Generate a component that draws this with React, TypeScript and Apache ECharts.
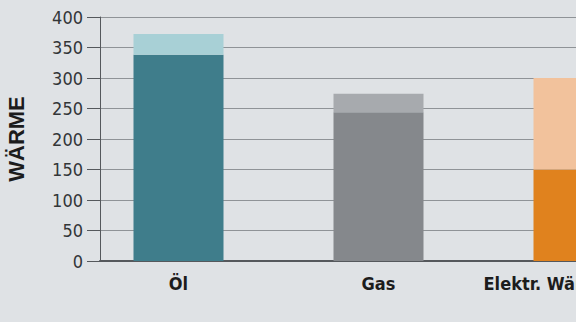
import React, { useEffect, useRef } from "react";
import * as echarts from "echarts";

// Heating energy per fuel type: a solid base part plus a lighter top part.
const categories = ["Öl", "Gas", "Elektr. Wärmepumpe"];
const baseValues = [338, 244, 150];
const topValues = [34, 30, 150];
const baseColors = ["#3f7d8b", "#85888c", "#e0821e"];
const topColors = ["#a8d0d6", "#a7aaae", "#f2c29c"];
const yTicks = { min: 0, max: 400, interval: 50 };
const yAxisTitle = "WÄRME";

const NARROW = "'DejaVu Sans Condensed', 'Liberation Sans', sans-serif";

export default function App() {
  const ref = useRef<HTMLDivElement>(null);

  useEffect(() => {
    if (!ref.current) return;
    const chart = echarts.init(ref.current, undefined, { renderer: "svg" });

    const plotTop = 17;
    const plotHeight = 244;

    chart.setOption({
      animation: false,
      backgroundColor: "#dfe2e5",
      grid: [
        // frame: value axis, grid lines and baseline
        { left: 100, top: plotTop, height: plotHeight, width: 700, outerBoundsMode: "none" },
        // bars: three bands of equal width
        { left: 78.5, top: plotTop, height: plotHeight, width: 600, outerBoundsMode: "none" },
      ],
      xAxis: [
        {
          gridIndex: 0,
          type: "category",
          data: categories,
          axisLine: { show: true, lineStyle: { color: "#55585c", width: 2 } },
          axisTick: { show: false },
          axisLabel: { show: false },
          splitLine: { show: false },
        },
        {
          gridIndex: 1,
          type: "category",
          data: categories,
          axisLine: { show: false },
          axisTick: { show: false },
          axisLabel: {
            interval: 0,
            margin: 13,
            color: "#1c1c1c",
            fontFamily: NARROW,
            fontWeight: "bold",
            fontSize: 18,
          },
        },
      ],
      yAxis: [
        {
          gridIndex: 0,
          type: "value",
          min: yTicks.min,
          max: yTicks.max,
          interval: yTicks.interval,
          name: yAxisTitle,
          nameLocation: "middle",
          nameRotate: 90,
          nameGap: 73,
          nameTextStyle: {
            color: "#1c1c1c",
            fontFamily: "'Liberation Sans', sans-serif",
            fontWeight: "bold",
            fontSize: 22,
          },
          axisLine: { show: true, lineStyle: { color: "#55585c", width: 1 } },
          axisTick: { show: true, length: 13, lineStyle: { color: "#55585c", width: 1 } },
          axisLabel: {
            margin: 17,
            color: "#333638",
            fontFamily: NARROW,
            fontSize: 18,
          },
          splitLine: { show: true, lineStyle: { color: "#8f9397", width: 1 } },
        },
        {
          gridIndex: 1,
          type: "value",
          min: yTicks.min,
          max: yTicks.max,
          interval: yTicks.interval,
          show: false,
          splitLine: { show: false },
        },
      ],
      series: [
        {
          type: "bar",
          xAxisIndex: 1,
          yAxisIndex: 1,
          stack: "heat",
          barWidth: 90,
          data: baseValues.map((v, i) => ({ value: v, itemStyle: { color: baseColors[i] } })),
        },
        {
          type: "bar",
          xAxisIndex: 1,
          yAxisIndex: 1,
          stack: "heat",
          barWidth: 90,
          data: topValues.map((v, i) => ({ value: v, itemStyle: { color: topColors[i] } })),
        },
      ],
    });

    return () => chart.dispose();
  }, []);

  return (
    <div
      ref={ref}
      style={{ position: "fixed", left: 0, top: 0, width: 576, height: 322 }}
    />
  );
}
